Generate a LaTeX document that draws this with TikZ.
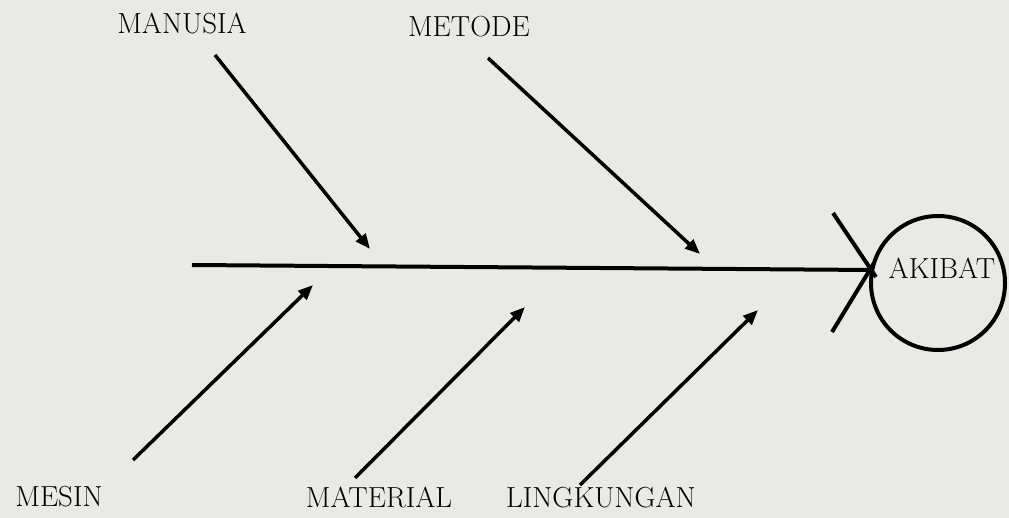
\documentclass[tikz,border=0pt]{standalone}
\usetikzlibrary{arrows.meta}
\definecolor{paper}{RGB}{233,233,229}
\tikzset{
  lbl/.style={font=\fontsize{29}{32}\selectfont, inner sep=0pt, text=black},
  bone/.style={line width=3.5pt, -{Triangle[length=15pt,width=12pt]}},
  spine/.style={line width=4pt},
  head/.style={draw, circle, line width=4pt, minimum size=134pt, inner sep=0pt}
}
\begin{document}
\begin{tikzpicture}[x=1pt,y=-1pt]
\fill[paper] (0,0) rectangle (1009,518);
\useasboundingbox (0,0) rectangle (1009,518);
% head
\node[head] (h) at (938,283) {};
\node[lbl, anchor=center] (akibat) at (942,268) {AKIBAT};
% spine
\coordinate (tail) at (192,265);
\coordinate (sp) at (872,270);
\draw[spine] (tail) -- (sp);
\coordinate (x1a) at (833,213);
\coordinate (x1b) at (876,277);
\coordinate (x2a) at (832,332);
\coordinate (x2b) at (874,263);
\draw[spine] (x1a) -- (x1b);
\draw[spine] (x2a) -- (x2b);
% labels
\node[lbl] (manusia) at (182,23) {MANUSIA};
\node[lbl] (metode) at (469,27) {METODE};
\node[lbl] (mesin) at (59,497) {MESIN};
\node[lbl] (material) at (379,497) {MATERIAL};
\node[lbl] (lingkungan) at (601,497) {LINGKUNGAN};
% bone starts and ends
\coordinate (s1) at (215,55);  \coordinate (e1) at (370,249);
\coordinate (s2) at (488,58);  \coordinate (e2) at (700,254);
\coordinate (s3) at (133,460); \coordinate (e3) at (313,285);
\coordinate (s4) at (355,478); \coordinate (e4) at (525,307);
\coordinate (s5) at (580,485); \coordinate (e5) at (758,310);
\draw[bone] (s1) -- (e1);
\draw[bone] (s2) -- (e2);
\draw[bone] (s3) -- (e3);
\draw[bone] (s4) -- (e4);
\draw[bone] (s5) -- (e5);
\end{tikzpicture}
\end{document}
